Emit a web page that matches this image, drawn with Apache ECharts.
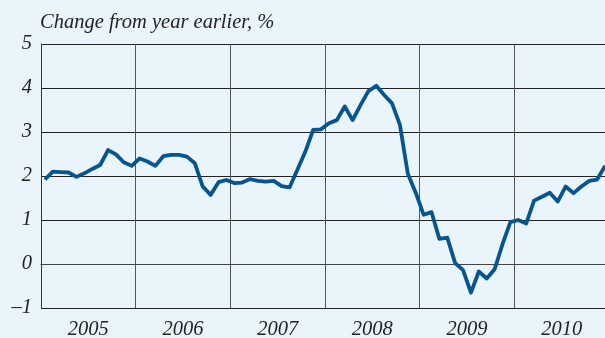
<!DOCTYPE html>
<html>
<head>
<meta charset="utf-8">
<script src="https://cdn.jsdelivr.net/npm/echarts@6/dist/echarts.min.js"></script>
<style>
  html, body { margin: 0; padding: 0; background: #eaf4fb; }
  #chart { width: 605px; height: 338px; }
</style>
</head>
<body>
<div id="chart"></div>
<script>
// year labels on the x axis
var years = ['2005', '2006', '2007', '2008', '2009', '2010'];
// y axis range / ticks
var yTicks = [-1, 0, 1, 2, 3, 4, 5];

// monthly values, change from year earlier (%)
var v2005 = [1.92, 2.10, 2.09, 2.08, 1.98, 2.06, 2.16, 2.25, 2.59, 2.49, 2.31, 2.23];
var v2006 = [2.40, 2.33, 2.23, 2.45, 2.48, 2.48, 2.44, 2.29, 1.76, 1.57, 1.86, 1.91];
var v2007 = [1.84, 1.85, 1.93, 1.89, 1.87, 1.89, 1.77, 1.74, 2.14, 2.55, 3.05, 3.06];
var v2008 = [3.20, 3.27, 3.58, 3.27, 3.61, 3.93, 4.05, 3.84, 3.65, 3.16, 2.05, 1.62];
var v2009 = [1.12, 1.18, 0.57, 0.60, 0.02, -0.14, -0.65, -0.17, -0.33, -0.12, 0.45, 0.95];
var v2010 = [1.00, 0.92, 1.44, 1.53, 1.62, 1.42, 1.76, 1.61, 1.76, 1.89, 1.92, 2.23];

var values = [].concat(v2005, v2006, v2007, v2008, v2009, v2010);

// month categories, one per value
var months = [];
years.forEach(function (y) {
  for (var m = 1; m <= 12; m++) months.push(y + '-' + (m < 10 ? '0' + m : m));
});

var serif = '"Liberation Serif", "DejaVu Serif", serif';

var chart = echarts.init(document.getElementById('chart'));
chart.setOption({
  backgroundColor: '#eaf4fb',
  animation: false,
  title: {
    text: 'Change from year earlier, %',
    left: 35,
    top: 8,
    textStyle: {
      fontFamily: serif,
      fontStyle: 'italic',
      fontWeight: 'normal',
      fontSize: 20.5,
      color: '#222'
    }
  },
  grid: { left: 41, right: -4, top: 44, bottom: 30, outerBoundsMode: 'none', containLabel: false },
  xAxis: [
    {
      type: 'category',
      data: months,
      boundaryGap: true,
      axisLine: { show: true, lineStyle: { color: '#444', width: 1 } },
      axisTick: { show: false },
      axisLabel: { show: false },
      splitLine: {
        show: true,
        interval: function (index) { return index % 12 === 0 && index > 0; },
        lineStyle: { color: '#555', width: 1 }
      }
    },
    {
      type: 'category',
      data: years,
      position: 'bottom',
      boundaryGap: true,
      axisLine: { show: false },
      axisTick: { show: false },
      splitLine: { show: false },
      axisLabel: {
        margin: 12,
        fontFamily: serif,
        fontStyle: 'italic',
        fontSize: 20.5,
        color: '#222'
      }
    }
  ],
  yAxis: {
    type: 'value',
    min: yTicks[0],
    max: yTicks[yTicks.length - 1],
    interval: 1,
    axisLine: { show: true, lineStyle: { color: '#333', width: 1 } },
    axisTick: { show: false },
    axisLabel: {
      margin: 9,
      fontFamily: serif,
      fontStyle: 'italic',
      fontSize: 20.5,
      color: '#222',
      formatter: function (v) { return v < 0 ? '\u2013' + Math.abs(v) : String(v); }
    },
    splitLine: { show: true, lineStyle: { color: '#222', width: 1 } }
  },
  series: [{
    type: 'line',
    xAxisIndex: 0,
    data: values,
    symbol: 'none',
    lineStyle: { color: '#07558f', width: 3.8, join: 'round' }
  }]
});
</script>
</body>
</html>
